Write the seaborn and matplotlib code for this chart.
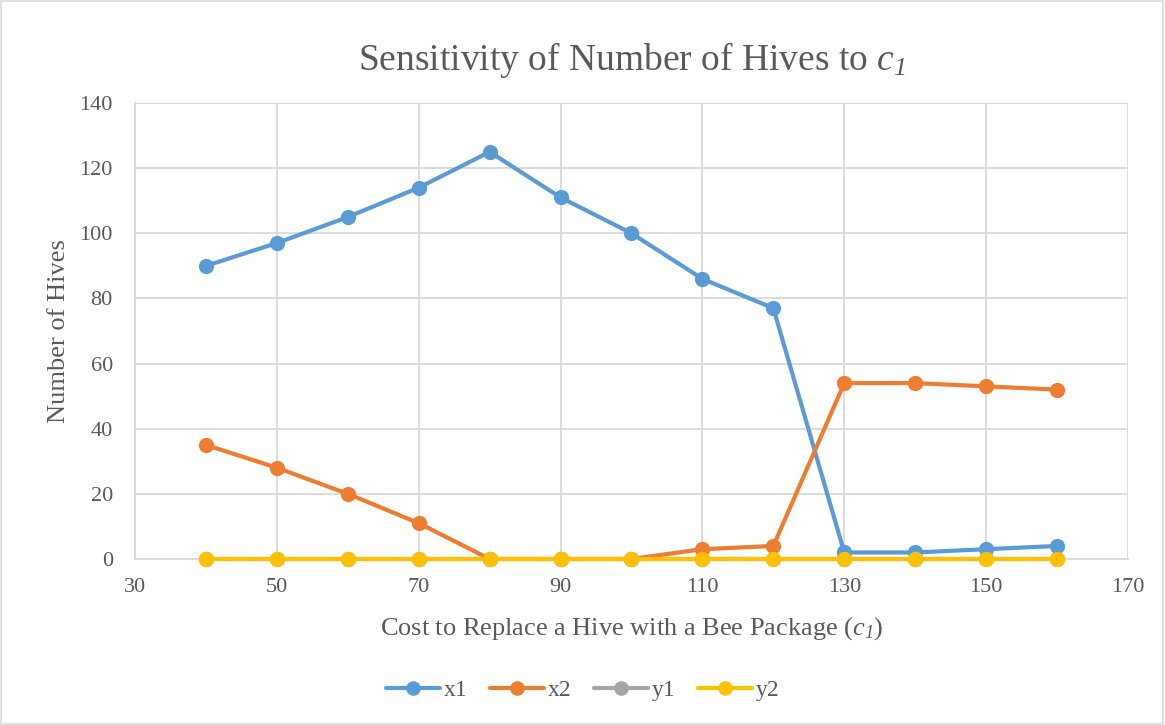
import matplotlib
matplotlib.use("Agg")
import matplotlib.pyplot as plt
from matplotlib.patches import Rectangle
import pandas as pd
import seaborn as sns

# Cost to replace a hive with a bee package (c1)
cost = [40, 50, 60, 70, 80, 90, 100, 110, 120, 130, 140, 150, 160]
x1 = [90, 97, 105, 114, 125, 111, 100, 86, 77, 2, 2, 3, 4]
x2 = [35, 28, 20, 11, 0, 0, 0, 3, 4, 54, 54, 53, 52]
y1 = [0, 0, 0, 0, 0, 0, 0, 0, 0, 0, 0, 0, 0]
y2 = [0, 0, 0, 0, 0, 0, 0, 0, 0, 0, 0, 0, 0]

series_names = ["x1", "x2", "y1", "y2"]
series_colors = ["#5B9BD5", "#ED7D31", "#A5A5A5", "#FFC000"]

x_ticks = [30, 50, 70, 90, 110, 130, 150, 170]
y_ticks = [0, 20, 40, 60, 80, 100, 120, 140]

df = pd.DataFrame({"cost": cost, "x1": x1, "x2": x2, "y1": y1, "y2": y2})
long_df = df.melt(id_vars="cost", var_name="series", value_name="hives")

sns.set_theme(style="white")
plt.rcParams["font.family"] = ["Liberation Serif", "DejaVu Serif"]
# the only math used is the italic symbol c_1
plt.rcParams["mathtext.fontset"] = "custom"
plt.rcParams["mathtext.rm"] = "Liberation Serif:italic"
plt.rcParams["mathtext.it"] = "Liberation Serif:italic"

text_color = "#595959"
grid_color = "#D9D9D9"

fig = plt.figure(figsize=(11.65, 7.25), dpi=100)
ax = fig.add_axes([0.1159, 0.2290, 0.8523, 0.6289])

sns.lineplot(
    data=long_df, x="cost", y="hives", hue="series",
    hue_order=series_names, palette=series_colors,
    marker="o", markersize=11, markeredgewidth=0, linewidth=3,
    ax=ax, legend=True, zorder=3, clip_on=False,
)

ax.set_xlim(30, 170)
ax.set_ylim(0, 140)
ax.set_xticks(x_ticks)
ax.set_yticks(y_ticks)
ax.grid(True, color=grid_color, linewidth=1.3, zorder=0)
ax.set_axisbelow(True)
for side in ["top", "right"]:
    ax.spines[side].set_visible(False)
for side in ["left", "bottom"]:
    ax.spines[side].set_color(grid_color)
    ax.spines[side].set_linewidth(1.3)
ax.tick_params(axis="x", length=0, labelsize=16, labelcolor=text_color, pad=14)
ax.tick_params(axis="y", length=0, labelsize=16, labelcolor=text_color, pad=16)

ax.set_xlabel("Cost to Replace a Hive with a Bee Package ($c_1$)",
              fontsize=19, color=text_color, labelpad=13)
ax.set_ylabel("Number of Hives", fontsize=19, color=text_color, labelpad=7)
ax.set_title("Sensitivity of Number of Hives to $c_1$",
             fontsize=27, color=text_color, pad=24)

handles, labels = ax.get_legend_handles_labels()
ax.legend_.remove()
for h in handles:
    h.set_markersize(10.5)
    h.set_linewidth(3)
fig.legend(handles, labels, loc="center", bbox_to_anchor=(0.5, 0.048), ncol=4,
           frameon=False, fontsize=17, labelcolor=text_color, handlelength=2.3,
           handletextpad=0.15, columnspacing=0.95)

fig.patches.append(Rectangle((0.001, 0.002), 0.997, 0.996, transform=fig.transFigure,
                             fill=False, edgecolor="#D9D9D9", linewidth=1.2))

fig.savefig("out.png", dpi=100, facecolor="white")
